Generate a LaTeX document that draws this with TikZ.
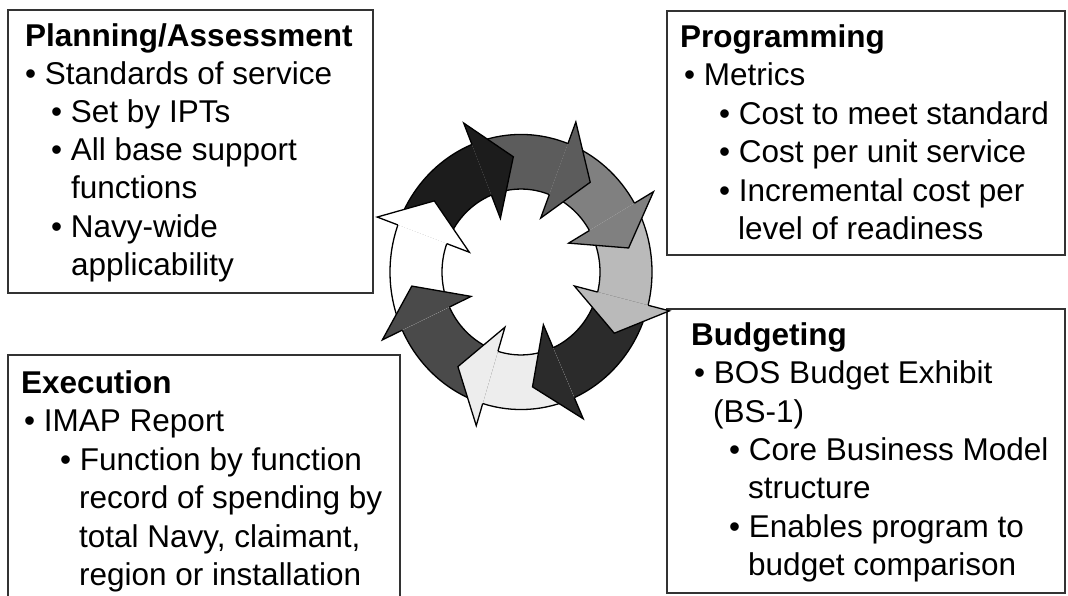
\documentclass[tikz,border=0pt]{standalone}
\usepackage{fontspec}
\setmainfont{Liberation Sans}
\usetikzlibrary{fit}
\definecolor{arA}{gray}{0.11}
\definecolor{arB}{gray}{0.36}
\definecolor{arC}{gray}{0.50}
\definecolor{arD}{gray}{0.73}
\definecolor{arE}{gray}{0.17}
\definecolor{arF}{gray}{0.93}
\definecolor{arG}{gray}{0.29}
\definecolor{arH}{gray}{1.00}
\begin{document}
\begin{tikzpicture}[x=1pt,y=1pt,
  box/.style={draw=black!80, line width=1.2pt, inner sep=0pt},
  ln/.style={anchor=base west, inner sep=0pt, font=\fontsize{31.5}{38}\selectfont},
  ttl/.style={anchor=base west, inner sep=0pt, font=\fontsize{31.5}{38}\selectfont\bfseries},
  ring/.style={draw=black, line width=1.3pt, line join=miter}]
\useasboundingbox (0,0) rectangle (1068,-596);
\clip (0,0) rectangle (1068,-596);
\fill[white] (0,0) rectangle (1068,-596);

% boxes
\node[box, fit={(8,-10) (373,-293)}] (plan) {};
\node[box, fit={(667,-11) (1065,-255)}] (prog) {};
\node[box, fit={(8,-355) (400,-610)}] (exec) {};
\node[box, fit={(667,-309) (1065,-593)}] (budg) {};

% Planning/Assessment
\node[ttl] (p0) at (25,-47) {Planning/Assessment};
\node[ln] (p1) at (25,-85) {• Standards of service};
\node[ln] (p2) at (51,-123) {• Set by IPTs};
\node[ln] (p3) at (51,-161) {• All base support};
\node[ln] (p4) at (71,-199) {functions};
\node[ln] (p5) at (51,-237) {• Navy-wide};
\node[ln] (p6) at (71,-275) {applicability};

% Programming
\node[ttl] (g0) at (680,-48) {Programming};
\node[ln] (g1) at (684,-86) {• Metrics};
\node[ln] (g2) at (719,-125) {• Cost to meet standard};
\node[ln] (g3) at (719,-163) {• Cost per unit service};
\node[ln] (g4) at (719,-202) {• Incremental cost per};
\node[ln] (g5) at (738,-240) {level of readiness};

% Execution
\node[ttl] (e0) at (21,-393) {Execution};
\node[ln] (e1) at (24,-431) {• IMAP Report};
\node[ln] (e2) at (60,-470) {• Function by function};
\node[ln] (e3) at (79,-508) {record of spending by};
\node[ln] (e4) at (79,-547) {total Navy, claimant,};
\node[ln] (e5) at (79,-585) {region or installation};

% Budgeting
\node[ttl] (b0) at (691,-345) {Budgeting};
\node[ln] (b1) at (694,-383) {• BOS Budget Exhibit};
\node[ln] (b2) at (713,-422) {(BS-1)};
\node[ln] (b3) at (729,-460) {• Core Business Model};
\node[ln] (b4) at (748,-498) {structure};
\node[ln] (b5) at (729,-537) {• Enables program to};
\node[ln] (b6) at (748,-575) {budget comparison};

% cycle of arrows
\begin{scope}[shift={(521,-272)}, yscale=1.05]
\foreach \a/\b/\c in {160/112/arA, 112/69/arB, 69/30/arC, 30/-14/arD, -14/-66/arE, -66/-107/arF, -107/-155/arG, -155/-200/arH} {
  \fill[\c] (\a:131) arc[start angle=\a, end angle=\b, radius=131] -- (\b:79) arc[start angle=\b, end angle=\a, radius=79] -- cycle;
  \draw[ring] (\a:131) arc[start angle=\a, end angle=\b, radius=131];
  \draw[ring] (\a:79) arc[start angle=\a, end angle=\b, radius=79];
}
\foreach \a/\b/\c in {160/112/arA, 112/69/arB, 69/30/arC, 30/-14/arD, -14/-66/arE, -66/-107/arF, -107/-155/arG, -155/-200/arH} {
  \pgfmathsetmacro\t{\b-18}
  \fill[\c] (\b:153) -- (\t:110) -- (\b:55) -- cycle;
  \draw[ring] (\b:131) -- (\b:153) -- (\t:110) -- (\b:55) -- (\b:79);
}
\end{scope}
\end{tikzpicture}
\end{document}
